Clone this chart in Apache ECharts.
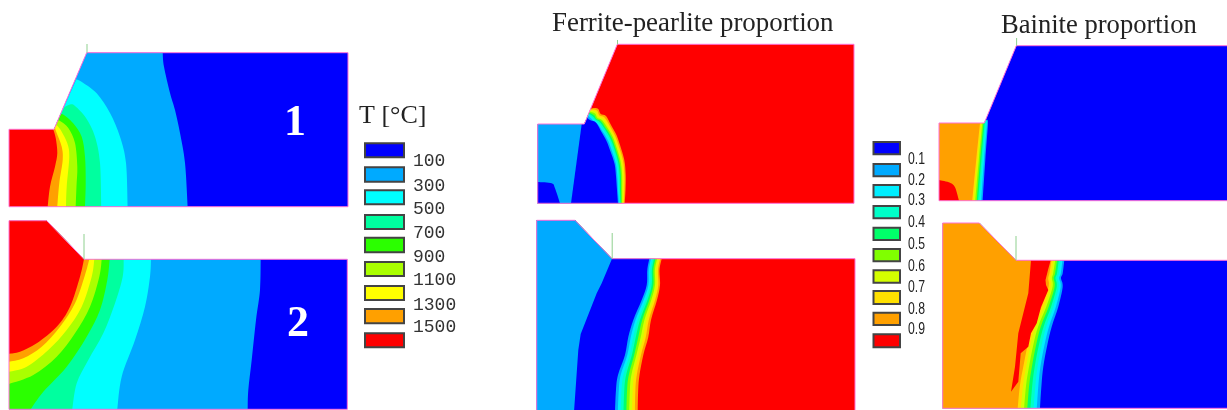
<!DOCTYPE html>
<html><head><meta charset="utf-8">
<style>html,body{margin:0;padding:0;background:#fff}#c{width:1227px;height:410px;filter:blur(0.5px)}</style>
<script src="https://cdn.jsdelivr.net/npm/echarts@6/dist/echarts.min.js"></script>
</head><body><div id="c"></div>
<script>
// ---------- legends ----------
const tempTicks = ['100','300','500','700','900','1100','1300','1500'];
const tempPalette = ['#0000ff','#00aaff','#00ffff','#00ff9f','#2bff00','#aaff00','#ffff00','#ffa000','#ff0000'];
const fracTicks = ['0.1','0.2','0.3','0.4','0.5','0.6','0.7','0.8','0.9'];
const fracPalette = ['#0000ff','#00aaff','#00eeff','#00ffc8','#00ff6a','#80ff00','#d4ff00','#ffe000','#ffa000','#ff0000'];
const [BLUE,LB,CY,SP,GR,YG,YE,OR,RE] = tempPalette;
const fracBands = fracPalette.slice(1,9); // light blue ... orange

// ---------- outlines of the six sections ----------
const outlineT1 = [[9,129.3],[54,129.3],[86.7,52.7],[348,52.7],[348,206.7],[9,206.7]];
const outlineT2 = [[9,220.7],[46.7,220.7],[84,259.3],[347.3,259.3],[347.3,409.3],[9,409.3]];
const outlineF1 = [[537.7,124],[584.3,124],[617.3,44.3],[854,44.3],[854,203.3],[537.7,203.3]];
const outlineF2 = [[536.7,220.3],[575,220.3],[612,258.7],[855,258.7],[855,412],[536.7,412]];
const outlineB1 = [[939,123],[984.3,123],[1016.3,45.7],[1228,45.7],[1228,200.7],[939,200.7]];
const outlineB2 = [[942.7,223],[979.3,223],[1016,260.3],[1228,260.3],[1228,408.3],[942.7,408.3]];

// ---------- temperature contours, section 1 (outer to inner) ----------
const t1Light = [[162.7,52.7],[164,66.7],[170,93],[175,110],[180,133],[185,163],[187.7,206.7]];
const t1Cyan  = [[76.4,79.3],[83,82.7],[96.7,93.3],[110,113],[120,136.7],[126,163],[127.7,206.7]];
const t1Spring= [[64.5,107],[70,104.5],[75,106],[86,118],[95,136.7],[100,163],[101.3,206.7]];
const t1Green = [[60.2,115],[63,114.5],[73,123],[81.7,136.7],[85,156.7],[85.7,183],[85,206.7]];
const t1Yg    = [[57.5,121],[60,121],[68.3,128],[75,143],[77.3,166.7],[76.5,186],[75.7,206.7]];
const t1Yellow= [[56,125],[58,126.5],[61.7,131.7],[67.3,143.3],[69.3,156.7],[66.7,186.7],[66,206.7]];
const t1Orange= [[55,128],[56.7,133],[61.7,146.7],[62.7,160],[59.3,183],[57.3,206.7]];
const t1Red   = [[53.3,129.3],[55.7,138],[57.3,153],[55,166.7],[50,186.7],[47.7,206.7]];

// ---------- temperature contours, section 2 ----------
const t2Light = [[260.7,259.3],[260,290],[256,320],[251.7,360],[248.3,390],[247.7,409.3]];
const t2Cyan  = [[151,259.3],[150,276.7],[145,306.7],[135,340],[121.7,376.7],[117.3,409.3]];
const t2Spring= [[123.7,259.3],[122.7,276.7],[115,303.3],[103.3,333.3],[88.3,360],[76.7,383.3],[72.3,409.3]];
const t2Green = [[109.7,259.3],[107.3,280],[100,310],[86.7,336.7],[66.7,366.7],[43.3,391.7],[30.7,409.3]];
const t2Yg    = [[101.7,259.3],[99.3,276.7],[90,306.7],[75,333.3],[56.7,356.7],[33.3,375],[9,384]];
const t2Yellow= [[94.3,259.3],[91.7,276.7],[81.7,306.7],[66.7,330],[48.3,350],[26.7,366.7],[9,371.7]];
const t2Orange= [[89.3,259.3],[85,275],[75,303.3],[60,326.7],[41.7,346.7],[23.3,358.3],[9,361.7]];
const t2Red   = [[84,259.3],[80,276.7],[70,306.7],[56.7,326.7],[36.7,343.3],[20,351.7],[9,353.7]];

// ---------- ferrite-pearlite, section 1: orange ... light blue edge, then blue edge ----------
const f1Orange=[[590.8,108.5],[595,108],[598.3,109],[600.7,114],[606,116],[611,125],[616.5,135],[620,145],[624.3,160],[625.7,175],[625.5,190],[624.7,203.3]];
const f1Gold  =[[590.3,109.5],[594.5,109.5],[597.5,111],[599.5,115.5],[604.5,117.5],[609.8,126],[615.2,136],[618.8,146],[623,160.5],[624.5,175],[624.4,190],[623.8,203.3]];
const f1Lime  =[[590,110.5],[594,111],[596.5,112.5],[598.5,117],[603.2,119],[608.5,127],[614,136.5],[617.6,146.5],[621.8,161],[623.3,175],[623.3,190],[623,203.3]];
const f1Yg    =[[589.6,111.5],[593,112.5],[595.5,114],[597.5,118],[602,120],[607.3,127.5],[612.8,137],[616.4,147],[620.6,161.5],[622.1,175],[622.2,190],[622.2,203.3]];
const f1Sprg  =[[589.2,112.5],[592,114],[594.5,115.5],[596.5,119],[600.8,121],[606,128.5],[611.5,137.5],[615.2,147.5],[619.4,162],[620.9,175],[621.1,190],[621.4,203.3]];
const f1Aqua  =[[588.8,113.5],[591,115],[593.5,117],[595.5,119.5],[599.5,122],[604.8,129],[610.3,138.5],[614,148],[618.2,162.5],[619.7,175],[620,190],[620.6,203.3]];
const f1Cyan  =[[588.3,114.5],[590,116],[592.5,118],[594.5,120],[598.5,123],[603.5,130],[609,139],[612.8,149],[617,163],[618.5,175.5],[618.9,190],[619.8,203.3]];
const f1Light =[[587.8,115.5],[589.5,117],[591.5,119],[593.5,121],[597.5,124],[602.3,131],[607.8,140],[611.6,150],[615.8,163.5],[617.3,176],[618,190],[619,203.3]];
const f1Blue  =[[587,117.5],[588.5,119],[591,120.5],[595,121.7],[598,125.5],[601.5,132],[606.5,141],[610.3,151],[614.6,164],[616,176],[617,190],[618,203.3]];
const f1Left  =[[537.7,124],[581.7,124],[571,203.3],[537.7,203.3]];
const f1Blob  =[[537.7,182],[551.7,183.3],[555,188.3],[560,203.3]];

// ---------- ferrite-pearlite, section 2: rows [y, orange, gold, lime, yg, spring, aqua, cyan, light, blue] ----------
const f2Rows = [
 [258.7,661.7,660.2,658.6,657.1,655.5,654,652.4,650.9,649.3],
 [270,659.5,658,656.4,654.9,653.4,651.9,650.3,648.8,647.3],
 [285,660,658.3,656.7,655,653.4,651.7,650,648.4,646.7],
 [300,657,655.1,653.2,651.3,649.4,647.5,645.6,643.6,641.7],
 [320,651,648.8,646.6,644.4,642.2,640,637.7,635.5,633.3],
 [337,648.3,645.8,643.3,640.8,638.3,635.8,633.3,630.8,628.3],
 [355,643.3,641,638.7,636.4,634.2,631.9,629.6,627.3,625],
 [375,639.5,636.8,634.1,631.4,628.8,626.1,623.4,620.7,618],
 [390,638.2,635.4,632.7,629.9,627.1,624.3,621.5,618.8,616],
 [412,637.7,634.9,632,629.2,626.4,623.5,620.7,617.8,615]
];
const f2Left = [[536.7,220.3],[575,220.3],[612,258.7],[601.7,283.3],[596.7,293.3],[580.7,334],[578.3,350],[574,412],[536.7,412]];

// ---------- bainite, section 1: rows [y, light, cyan, aqua, spring, yg, lime, gold, orange] ----------
const b1Rows = [
 [123,988,986.9,985.7,984.6,983.4,982.3,981.1,980],
 [160,985.3,984,982.7,981.4,980.1,978.8,977.5,976.2],
 [200.7,982.7,981.2,979.7,978.2,976.8,975.3,973.8,972.3]
];
const b1Tip  = [[985.5,120],[987,120.5]];
const b1Blob = [[939,180],[950,182.7],[955,187.3],[959,200.7]];

// ---------- bainite, section 2 ----------
const b2Rows = [
 [260.3,1064.3,1062.5,1060.6,1058.8,1057,1055.2,1053.3,1051.5],
 [273.3,1062.7,1060.8,1058.9,1057,1055.1,1053.2,1051.3,1049.4],
 [278.3,1061,1059.2,1057.4,1055.5,1053.7,1051.9,1050,1048.2],
 [286.7,1062.7,1060.7,1058.7,1056.7,1054.6,1052.6,1050.6,1048.6],
 [306.7,1058.3,1055.9,1053.5,1051.1,1048.7,1046.3,1044,1041.6],
 [326.7,1051.7,1049,1046.3,1043.6,1040.8,1038.1,1035.4,1032.7],
 [345,1047.3,1044.5,1041.7,1038.9,1036.1,1033.3,1030.5,1027.7],
 [366.7,1043.3,1040.4,1037.6,1034.7,1031.9,1029,1026.2,1023.3],
 [385,1041.5,1038.4,1035.4,1032.3,1029.2,1026.1,1023.1,1020],
 [408.3,1040,1036.8,1033.6,1030.4,1027.3,1024.1,1020.9,1017.7]
];
const b2Red = [[1031,260.3],[1050.7,260.3],[1048,270],[1045.5,280],[1046,285],[1048.3,290],[1041,307],[1036.7,323.3],[1031,333.3],[1028.3,346.7],[1020.7,353.3],[1018.3,381.7],[1011,391.7],[1015,366.7],[1018.3,333.3],[1028.3,293.3]];

// ---------- layout of texts, ticks and swatches ----------
const tempSwatchRows = [[143.3,157.3],[167.3,181.7],[190.3,204.3],[215,229],[237.7,252.3],[262,276],[286,300],[309,323.3],[333.3,347.3]];
const tempLabelY = [161.7,186,209.3,233.3,257.3,280,305,327];
const fracSwatchRows = [[142,154.3],[164,176.3],[185,197.3],[206,218.3],[227.7,240],[249,261.3],[270.3,282.7],[291,304],[312.7,325],[334.3,347.3]];
const fracLabelY = [159.3,180.7,200.7,222.7,244.3,266,287.3,309.3,329.3];
const gaugeTicks = [[87,44,52.7],[84,234,259.3],[617.5,40,44.3],[612.2,233,258.7],[1016.6,38,45.7],[1016,236,260.3]];

// ---------- assemble regions: a curved contour edge closed along the section boundary ----------
const col = (rows, i) => rows.map(r => [r[i], r[0]]);
const regions = [];
const add = (edge, tail, fill) => regions.push({edge, tail, fill});
const plain = (pts, fill) => regions.push({edge:[], tail:pts, fill});

const t1Tail = [[9,206.7],[9,129.3],[54,129.3]];
plain(outlineT1, BLUE);
add(t1Light,[[9,206.7],[9,129.3],[54,129.3],[86.7,52.7]], LB);
[[t1Cyan,CY],[t1Spring,SP],[t1Green,GR],[t1Yg,YG],[t1Yellow,YE],[t1Orange,OR],[t1Red,RE]].forEach(([e,c]) => add(e,t1Tail,c));

plain(outlineT2, BLUE);
const t2TailB = [[9,409.3],[9,220.7],[46.7,220.7],[84,259.3]];
const t2TailL = [[9,220.7],[46.7,220.7],[84,259.3]];
[[t2Light,LB],[t2Cyan,CY],[t2Spring,SP],[t2Green,GR]].forEach(([e,c]) => add(e,t2TailB,c));
[[t2Yg,YG],[t2Yellow,YE],[t2Orange,OR],[t2Red,RE]].forEach(([e,c]) => add(e,t2TailL,c));

plain(outlineF1, RE);
const f1Tail = [[537.7,203.3],[537.7,124],[584.3,124]];
[f1Orange,f1Gold,f1Lime,f1Yg,f1Sprg,f1Aqua,f1Cyan,f1Light].forEach((e,i) => add(e,f1Tail,fracBands[7-i]));
add(f1Blue,f1Tail,BLUE);
plain(f1Left, LB);
add(f1Blob,[[537.7,203.3]],BLUE);

plain(outlineF2, RE);
const f2Tail = [[536.7,412],[536.7,220.3],[575,220.3],[612,258.7]];
for (let i=1;i<=8;i++) add(col(f2Rows,i),f2Tail,fracBands[8-i]);
add(col(f2Rows,9),f2Tail,BLUE);
plain(f2Left, LB);

plain(outlineB1, BLUE);
const b1Tail = [[939,200.7],[939,123],[984.3,123]];
add(b1Tip.concat(col(b1Rows,1)),b1Tail,fracBands[0]);
for (let i=2;i<=8;i++) {
  const edge = col(b1Rows,i);
  if (edge[0][0] > 984.3) edge.unshift([984.9,121.5]);
  add(edge,b1Tail, i===8 ? OR : fracBands[i-1]);
}
add(b1Blob,[[939,200.7]],RE);

plain(outlineB2, BLUE);
const b2Tail = [[942.7,408.3],[942.7,223],[979.3,223],[1016,260.3]];
for (let i=1;i<=8;i++) add(col(b2Rows,i),b2Tail, i===8 ? OR : fracBands[i-1]);
plain(b2Red, RE);

[outlineT1,outlineT2,outlineF1,outlineF2,outlineB1,outlineB2].forEach(o => regions.push({edge:[],tail:o,outline:true}));

const f = n => n.toFixed(2);
function regionPath(r, api){
  const e = r.edge.map(p => api.coord(p)), t = r.tail.map(p => api.coord(p));
  let d = '';
  if (e.length) {
    d += `M${f(e[0][0])} ${f(e[0][1])}`;
    for (let i=0;i<e.length-1;i++){
      const a=e[Math.max(i-1,0)],b=e[i],c=e[i+1],g=e[Math.min(i+2,e.length-1)];
      d += `C${f(b[0]+(c[0]-a[0])/6)} ${f(b[1]+(c[1]-a[1])/6)} ${f(c[0]-(g[0]-b[0])/6)} ${f(c[1]-(g[1]-b[1])/6)} ${f(c[0])} ${f(c[1])}`;
    }
    t.forEach(p => { d += `L${f(p[0])} ${f(p[1])}`; });
  } else {
    t.forEach((p,i) => { d += `${i?'L':'M'}${f(p[0])} ${f(p[1])}`; });
  }
  return d + 'Z';
}

const chart = echarts.init(document.getElementById('c'), null, {renderer:'canvas'});
const dummy = arr => arr.map(() => [0,0]);

const texts = [];
const serif = '"Liberation Serif"';
texts.push({t:'Ferrite-pearlite proportion',x:552,y:24,font:`26.9px ${serif}`,fill:'#222',align:'left'});
texts.push({t:'Bainite proportion',x:1001,y:26,font:`26.6px ${serif}`,fill:'#222',align:'left'});
texts.push({t:'T [°C]',x:359,y:116,font:`26px ${serif}`,fill:'#222',align:'left'});
texts.push({t:'1',x:295,y:124,font:`bold 44px ${serif}`,fill:'#fff',align:'center'});
texts.push({t:'2',x:298,y:325,font:`bold 44px ${serif}`,fill:'#fff',align:'center'});
tempTicks.forEach((t,i)=>texts.push({t,x:413,y:tempLabelY[i],font:'18px "Liberation Mono"',fill:'#333',align:'left'}));
fracTicks.forEach((t,i)=>texts.push({t,x:908,y:fracLabelY[i],font:'17px "Liberation Sans"',fill:'#222',align:'left',sx:0.72}));

const swatches = [];
tempPalette.forEach((c,i)=>swatches.push({x0:365,x1:404,y0:tempSwatchRows[i][0],y1:tempSwatchRows[i][1],c}));
fracPalette.forEach((c,i)=>swatches.push({x0:873.5,x1:900,y0:fracSwatchRows[i][0],y1:fracSwatchRows[i][1],c}));

chart.setOption({
  animation:false,
  backgroundColor:'#fff',
  grid:{left:0,right:0,top:0,bottom:0},
  xAxis:{type:'value',min:0,max:1227,show:false},
  yAxis:{type:'value',min:0,max:410,inverse:true,show:false},
  series:[
    {type:'custom',coordinateSystem:'cartesian2d',clip:true,silent:true,z:1,data:dummy(regions),
     renderItem:(p,api)=>{const r=regions[p.dataIndex];
       return {type:'path',shape:{pathData:regionPath(r,api)},
         style:r.outline?{fill:'none',stroke:'#ff70d8',lineWidth:1}:{fill:r.fill,stroke:null}};}},
    {type:'custom',coordinateSystem:'cartesian2d',clip:false,silent:true,z:2,data:dummy(gaugeTicks),
     renderItem:(p,api)=>{const g=gaugeTicks[p.dataIndex];
       const a=api.coord([g[0],g[1]]),b=api.coord([g[0],g[2]]);
       return {type:'line',shape:{x1:a[0],y1:a[1],x2:b[0],y2:b[1]},style:{stroke:'#8fd08f',lineWidth:1}};}},
    {type:'custom',coordinateSystem:'cartesian2d',clip:false,silent:true,z:3,data:dummy(swatches),
     renderItem:(p,api)=>{const s=swatches[p.dataIndex];
       const a=api.coord([s.x0,s.y0]),b=api.coord([s.x1,s.y1]);
       return {type:'rect',shape:{x:a[0],y:a[1],width:b[0]-a[0],height:b[1]-a[1]},
         style:{fill:s.c,stroke:'#444',lineWidth:2}};}},
    {type:'custom',coordinateSystem:'cartesian2d',clip:false,silent:true,z:4,data:dummy(texts),
     renderItem:(p,api)=>{const t=texts[p.dataIndex];const a=api.coord([t.x,t.y]);
       return {type:'text',x:a[0],y:a[1],scaleX:t.sx||1,
         style:{text:t.t,font:t.font,fill:t.fill,align:t.align,verticalAlign:'middle'}};}}
  ]
});
</script></body></html>
